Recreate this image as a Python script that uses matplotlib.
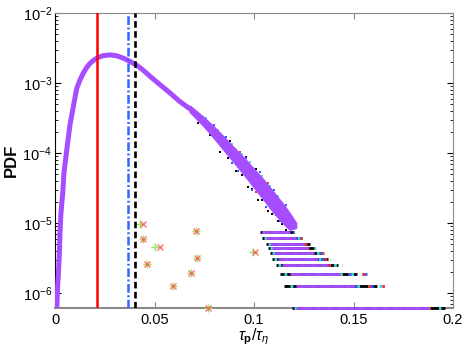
import matplotlib
matplotlib.use("Agg")
import matplotlib.pyplot as plt
from matplotlib.ticker import LogLocator, NullFormatter, FixedLocator, FixedFormatter

plt.rcParams['font.family'] = ['Liberation Sans', 'DejaVu Sans']
plt.rcParams['mathtext.fontset'] = 'custom'
plt.rcParams['mathtext.rm'] = 'Liberation Sans'
plt.rcParams['mathtext.it'] = 'Liberation Sans:italic'
plt.rcParams['mathtext.bf'] = 'Liberation Sans:bold'

# ---- data ----
curve_x = [0.0009, 0.0013, 0.0017, 0.0022, 0.0025, 0.0030, 0.0039, 0.0045, 0.0059,
           0.0075, 0.0092, 0.0109, 0.0125, 0.0142, 0.0160, 0.0176, 0.0195, 0.0215,
           0.0240, 0.0276, 0.0310, 0.0345, 0.0377, 0.0410, 0.0440, 0.0477, 0.0525,
           0.0578, 0.0625, 0.0678]
curve_pdf = [6.2e-7, 1.2e-6, 1.9e-6, 3.7e-6, 7.2e-6, 1.4e-5, 2.7e-5, 5.2e-5, 1.1e-4,
             2.5e-4, 4.6e-4, 8.3e-4, 1.1e-3, 1.38e-3, 1.68e-3, 1.91e-3, 2.12e-3, 2.3e-3,
             2.45e-3, 2.52e-3, 2.45e-3, 2.25e-3, 2.03e-3, 1.8e-3, 1.55e-3, 1.25e-3, 9.6e-4,
             7.2e-4, 5.5e-4, 4.27e-4]

# spread of the main (purple) series in the tail
band_x = [0.0678, 0.075, 0.080, 0.085, 0.090, 0.095, 0.100, 0.105, 0.110, 0.115, 0.118,
          0.121]
band_hi = [4.68e-4, 3.16e-4, 2.32e-4, 1.66e-4, 1.17e-4, 8.41e-5, 5.82e-5, 4.03e-5, 2.69e-5,
           1.78e-5, 1.35e-5, 1.0e-5]
band_lo = [3.89e-4, 2.40e-4, 1.64e-4, 1.10e-4, 7.41e-5, 4.95e-5, 3.27e-5, 2.16e-5, 1.41e-5,
           9.77e-6, 8.13e-6, 8.6e-6]

# scattered points of the other series at the band edges
black_x = [0.072, 0.078, 0.083, 0.087, 0.091, 0.094, 0.097, 0.099, 0.102, 0.104, 0.107,
           0.109, 0.112, 0.114, 0.088, 0.096, 0.101, 0.116]
black_y = [2.7e-4, 1.8e-4, 1.05e-4, 8.6e-5, 5.6e-5, 4.8e-5, 3.3e-5, 3.1e-5, 2.1e-5, 2.1e-5,
           1.5e-5, 1.35e-5, 1.05e-5, 9.8e-6, 1.5e-4, 8.8e-5, 6.0e-5, 8.0e-6]
blue_x = [0.080, 0.086, 0.092, 0.096, 0.099, 0.103, 0.106, 0.110, 0.113, 0.116, 0.089, 0.108]
blue_y = [2.5e-4, 1.68e-4, 5.5e-5, 8.6e-5, 3.0e-5, 5.3e-5, 1.7e-5, 3.0e-5, 1.05e-5, 1.8e-5,
          7.2e-5, 3.4e-5]
cyan_x = [0.076, 0.082, 0.089, 0.094, 0.098, 0.104, 0.108, 0.112]
cyan_y = [3.2e-4, 2.15e-4, 1.36e-4, 9.8e-5, 7.5e-5, 4.7e-5, 3.4e-5, 2.4e-5]
red_x = [0.093, 0.101, 0.107, 0.111, 0.117]
red_y = [1.02e-4, 2.8e-5, 3.7e-5, 1.3e-5, 1.15e-5]
yellow_x = [0.091, 0.105]
yellow_y = [1.15e-4, 2.1e-5]

# discrete low-count rows in the tail
row_unit = 6.2e-7
row_counts = [1, 2, 3, 4, 5, 6, 7, 8, 10, 12]
black_row_x0 = [0.119, 0.115, 0.113, 0.111, 0.109, 0.108, 0.107, 0.106, 0.104, 0.103]
black_row_x1 = [0.196, 0.162, 0.152, 0.142, 0.137, 0.134, 0.130, 0.128, 0.124, 0.120]
other_row_x0 = [0.120, 0.118, 0.115, 0.112, 0.110, 0.109, 0.108, 0.107, 0.105, 0.104]
other_row_x1 = [0.194, 0.166, 0.157, 0.144, 0.138, 0.135, 0.131, 0.128, 0.124, 0.120]
purple_row_x0 = [0.121, 0.121, 0.118, 0.114, 0.112, 0.110, 0.109, 0.108, 0.106, 0.104]
purple_row_x1 = [0.188, 0.150, 0.143, 0.137, 0.132, 0.130, 0.127, 0.125, 0.121, 0.118]

plus_x = [0.0427, 0.0441, 0.0503, 0.0461, 0.0591, 0.0709, 0.0712, 0.0682, 0.0993, 0.0768]
cross_x = [0.0444, 0.0441, 0.0528, 0.0461, 0.0591, 0.0709, 0.0712, 0.0682, 0.1003, 0.0770]
marker_pdf = [9.7e-6, 5.85e-6, 4.5e-6, 2.57e-6, 1.26e-6, 7.8e-6, 3.16e-6, 1.9e-6, 3.85e-6, 6.2e-7]

tau_ref = [0.0210, 0.0365, 0.0403]

xticks = [0, 0.05, 0.1, 0.15, 0.2]
xticklabels = ['0', '0.05', '0.1', '0.15', '0.2']

# ---- figure ----
fig = plt.figure(figsize=(4.63, 3.49), dpi=100)
ax = fig.add_axes([55/463, 1-308/349, 398/463, 295/349])
ax.set_yscale('log')

purple = '#a64dff'
c_black, c_red, c_blue, c_cyan, c_yellow = 'black', '#ff2a2a', '#2a5cff', '#3fe0e0', '#e6e600'

# discrete rows
for i, n in enumerate(row_counts):
    y = row_unit * n
    kw = dict(zorder=5, clip_on=False)
    ax.hlines(y, black_row_x0[i], black_row_x1[i], color=c_black, lw=2.0, **kw)
    ax.hlines(y, other_row_x0[i], other_row_x1[i], color=c_cyan, lw=2.0,
              linestyles=(0, (1, 3)), **kw)
    ax.hlines(y, other_row_x0[i], other_row_x1[i], color=c_red, lw=2.0,
              linestyles=(2, (1, 4)), **kw)
    ax.hlines(y, other_row_x0[i], other_row_x1[i], color=c_blue, lw=2.0,
              linestyles=(1, (1, 5)), **kw)
    ax.hlines(y, purple_row_x0[i], purple_row_x1[i], color=purple, lw=2.0, **kw)

# scattered edge points of other series
for xs, ys, c in [(black_x, black_y, c_black), (blue_x, blue_y, c_blue),
                  (cyan_x, cyan_y, c_cyan), (red_x, red_y, c_red),
                  (yellow_x, yellow_y, c_yellow)]:
    ax.plot(xs, ys, 's', color=c, ms=2.0, mew=0, linestyle='none', zorder=3)

# main curve and its tail band
ax.plot(curve_x, curve_pdf, color=purple, lw=3.6, zorder=4, solid_capstyle='round')
ax.fill_between(band_x, band_lo, band_hi, color=purple, lw=1.5, edgecolor=purple, zorder=4)

# plus / cross markers
ax.plot(plus_x, marker_pdf, '+', color='#8ee85a', ms=6, mew=1.0, zorder=6, linestyle='none',
        clip_on=False)
ax.plot(cross_x, marker_pdf, 'x', color='#ff5a5a', ms=4.5, mew=1.0, zorder=6, linestyle='none',
        alpha=0.85, clip_on=False)

# reference lines
ax.axvline(tau_ref[0], color='#ff0000', lw=1.8, zorder=7)
ax.axvline(tau_ref[1], color='#3366ff', lw=1.8, linestyle=(0, (3.5, 1.0, 0.8, 1.0)), zorder=7)
ax.axvline(tau_ref[2], color='black', lw=1.9, linestyle=(0, (2.5, 1.3)), zorder=7)

ax.set_xlim(0, 0.2)
ax.set_ylim(6.1e-7, 1e-2)
ax.xaxis.set_major_locator(FixedLocator(xticks))
ax.xaxis.set_major_formatter(FixedFormatter(xticklabels))
ax.yaxis.set_major_locator(LogLocator(base=10, numticks=10))
ax.yaxis.set_minor_locator(LogLocator(base=10, subs=range(2, 10), numticks=20))
ax.yaxis.set_minor_formatter(NullFormatter())

gray = '#8a8a8a'
for s in ['top', 'right', 'bottom']:
    ax.spines[s].set_color(gray)
ax.spines['bottom'].set_linewidth(1.5)
ax.spines['left'].set_color('black')
ax.tick_params(axis='both', which='both', direction='in', top=True, right=True, labelsize=10.5)
ax.tick_params(axis='x', which='major', length=4, color=gray, pad=3.5)
ax.tick_params(axis='y', which='major', length=4, pad=2)
ax.tick_params(axis='y', which='minor', length=2)

ax.set_xlabel(r'$\tau_{\mathbf{p}}/\tau_{\eta}$', fontsize=11.5)
ax.xaxis.set_label_coords(0.5, -0.062)
ax.set_ylabel('PDF', fontsize=12, fontweight='bold')
ax.yaxis.set_label_coords(-0.09, 0.5)

fig.savefig('out.png', dpi=100)
